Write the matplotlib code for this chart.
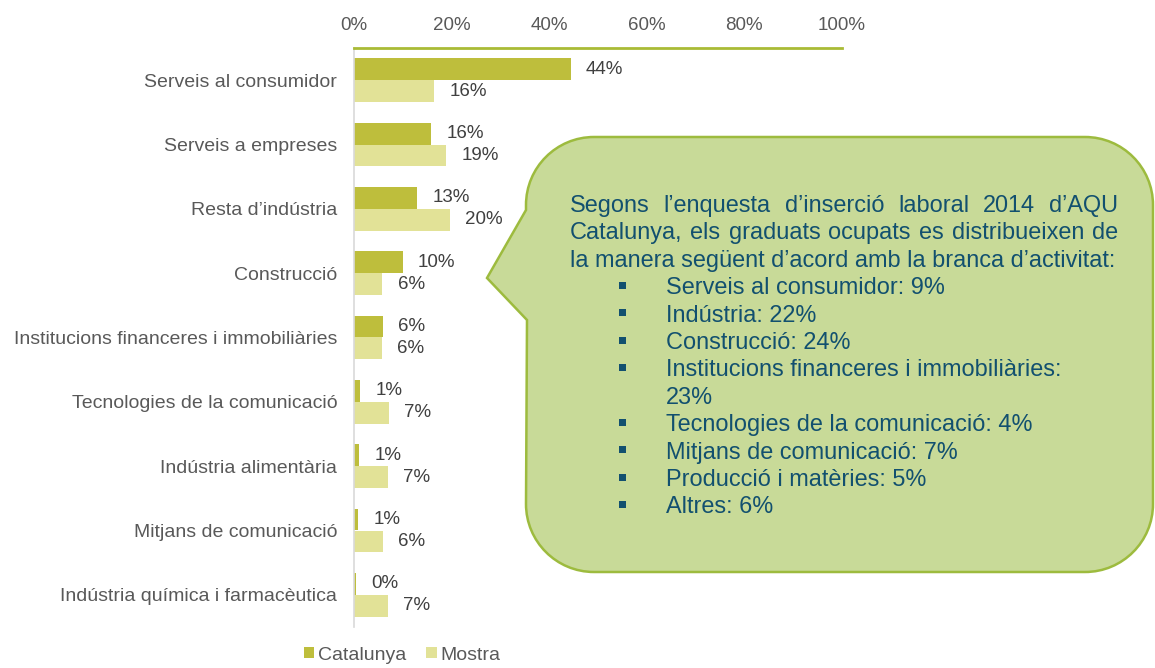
import matplotlib
matplotlib.use("Agg")
import matplotlib.pyplot as plt
from matplotlib.patches import Patch, PathPatch, Rectangle
from matplotlib.path import Path

plt.rcParams['font.family'] = ['Liberation Sans', 'DejaVu Sans']

# ---------------- data ----------------
categories = ["Serveis al consumidor", "Serveis a empreses", "Resta d’indústria",
              "Construcció", "Institucions financeres i immobiliàries",
              "Tecnologies de la comunicació", "Indústria alimentària",
              "Mitjans de comunicació", "Indústria química i farmacèutica"]
catalunya = [44.4, 15.8, 13.0, 10.0, 5.9, 1.3, 1.1, 0.9, 0.4]
mostra = [16.4, 18.9, 19.6, 5.8, 5.7, 7.1, 7.0, 5.9, 7.0]
series_names = ["Catalunya", "Mostra"]
xticks = [0, 20, 40, 60, 80, 100]
xtick_labels = ["0%", "20%", "40%", "60%", "80%", "100%"]

intro_lines = ["Segons l’enquesta d’inserció laboral 2014 d’AQU",
               "Catalunya, els graduats ocupats es distribueixen de",
               "la manera següent d’acord amb la branca d’activitat:"]
bullet_items = [["Serveis al consumidor: 9%"], ["Indústria: 22%"], ["Construcció: 24%"],
                ["Institucions financeres i immobiliàries:", "23%"],
                ["Tecnologies de la comunicació: 4%"], ["Mitjans de comunicació: 7%"],
                ["Producció i matèries: 5%"], ["Altres: 6%"]]

# ---------------- styling ----------------
W, H = 1155, 668
C_CAT = "#BEBE3C"
C_MOS = "#E2E297"
TXT = "#595959"
VAL = "#404040"
BOX_FILL = "#C8DA98"
BOX_EDGE = "#9DBB3E"
BOX_TXT = "#12506F"

fig = plt.figure(figsize=(W / 100, H / 100), dpi=100)
ax_l, ax_r, ax_t, ax_b = 354, 842, 48, 627
ax = fig.add_axes([ax_l / W, 1 - ax_b / H, (ax_r - ax_l) / W, (ax_b - ax_t) / H])

n = len(categories)
h = 0.34
ypos = list(range(n))
ax.barh([y - h / 2 for y in ypos], catalunya, height=h, color=C_CAT, label=series_names[0])
ax.barh([y + h / 2 for y in ypos], mostra, height=h, color=C_MOS, label=series_names[1])

for y, v in zip(ypos, catalunya):
    ax.annotate(f"{v:.0f}%", (v, y - h / 2), xytext=(11, 0), textcoords="offset points",
                ha="left", va="center", fontsize=13.5, color=VAL)
for y, v in zip(ypos, mostra):
    ax.annotate(f"{v:.0f}%", (v, y + h / 2), xytext=(11, 0), textcoords="offset points",
                ha="left", va="center", fontsize=13.5, color=VAL)

ax.set_xlim(0, 100)
ax.set_ylim(n - 0.5, -0.5)
ax.set_xticks(xticks)
ax.set_xticklabels(xtick_labels, fontsize=13.5, color=TXT)
ax.xaxis.tick_top()
ax.tick_params(axis="x", length=0, pad=10)
ax.set_yticks(ypos)
ax.set_yticklabels(categories, fontsize=14, color=TXT)
ax.tick_params(axis="y", length=0, pad=12)
for s in ["bottom", "right"]:
    ax.spines[s].set_visible(False)
ax.spines["top"].set_color("#A9BB35")
ax.spines["top"].set_linewidth(2)
ax.spines["left"].set_color("#D9D9D9")
ax.spines["left"].set_linewidth(1.2)

# legend
handles = [Patch(facecolor=C_CAT, label=series_names[0]), Patch(facecolor=C_MOS, label=series_names[1])]
fig.legend(handles=handles, ncol=2, frameon=False, loc="center",
           bbox_to_anchor=(402 / W, 1 - 655 / H), handlelength=0.55, handleheight=0.55,
           handletextpad=0.2, columnspacing=1.0, fontsize=14, labelcolor=TXT)


# ---------------- callout ----------------
def P(x, y):
    return (x / W, 1 - y / H)


L, R, T, B, r = 526, 1153, 137, 572, 68
k = 0.5523 * r
verts = [P(L + r, T), P(R - r, T),
         P(R - r + k, T), P(R, T + r - k), P(R, T + r),
         P(R, B - r),
         P(R, B - r + k), P(R - r + k, B), P(R - r, B),
         P(L + r, B),
         P(L + r - k, B), P(L, B - r + k), P(L, B - r),
         P(L + 1, 320), P(487, 278), P(L, 210),
         P(L, T + r),
         P(L, T + r - k), P(L + r - k, T), P(L + r, T),
         P(L + r, T)]
codes = [Path.MOVETO, Path.LINETO,
         Path.CURVE4, Path.CURVE4, Path.CURVE4,
         Path.LINETO,
         Path.CURVE4, Path.CURVE4, Path.CURVE4,
         Path.LINETO,
         Path.CURVE4, Path.CURVE4, Path.CURVE4,
         Path.LINETO, Path.LINETO, Path.LINETO,
         Path.LINETO,
         Path.CURVE4, Path.CURVE4, Path.CURVE4,
         Path.CLOSEPOLY]
fig.patches.append(PathPatch(Path(verts, codes), transform=fig.transFigure,
                             facecolor=BOX_FILL, edgecolor=BOX_EDGE, linewidth=1.8, zorder=5))

renderer = fig.canvas.get_renderer()


def width_px(s, fs):
    t = fig.text(0, 0, s, fontsize=fs)
    w = t.get_window_extent(renderer).width
    t.remove()
    return w


x0, x1 = 570, 1118
fs = 16 * (x1 - x0) / width_px(intro_lines[2], 16)

base0 = 212
step = 27.4


def justify(line, y):
    words = line.split(" ")
    ws = [width_px(w, fs) for w in words]
    gap = (x1 - x0 - sum(ws)) / (len(words) - 1)
    x = x0
    for w, wd in zip(words, ws):
        fig.text(*P(x, y), w, fontsize=fs, color=BOX_TXT, ha="left", va="baseline", zorder=6)
        x += wd + gap


for i, line in enumerate(intro_lines):
    y = base0 + step * i
    if i < 2:
        justify(line, y)
    else:
        fig.text(*P(x0, y), line, fontsize=fs, color=BOX_TXT, ha="left", va="baseline", zorder=6)

li = len(intro_lines)
for item in bullet_items:
    y = base0 + step * li
    fig.patches.append(Rectangle(P(618.5, y - 5.5), 7 / W, 7 / H, transform=fig.transFigure,
                                 facecolor=BOX_TXT, edgecolor="none", zorder=6))
    for part in item:
        y = base0 + step * li
        fig.text(*P(666, y), part, fontsize=fs, color=BOX_TXT, ha="left", va="baseline", zorder=6)
        li += 1

fig.savefig("out.png", dpi=100)
